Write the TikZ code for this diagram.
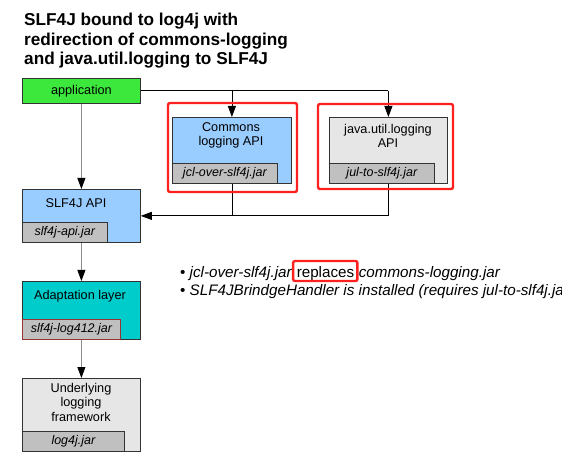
\documentclass[tikz,border=0pt]{standalone}
\usepackage{fontspec}
\setmainfont{Liberation Sans}
\usetikzlibrary{arrows.meta,calc}

\definecolor{appgreen}{HTML}{3CE83C}
\definecolor{apiblue}{HTML}{99CCFF}
\definecolor{adaptteal}{HTML}{00CCCC}
\definecolor{boxgray}{HTML}{E6E6E6}
\definecolor{jargray}{HTML}{C0C0C0}
\definecolor{hired}{HTML}{FF2020}
\definecolor{jarred}{HTML}{993333}

\tikzset{
  box/.style={draw=black!80, line width=0.8pt, anchor=north west, inner sep=0pt},
  jar/.style={draw=black!80, line width=0.8pt, fill=jargray, anchor=south west,
    minimum height=20pt, inner sep=0pt, font=\fontsize{12.5}{14}\selectfont\itshape},
  lbl/.style={align=center, inner sep=0pt, anchor=north, font=\fontsize{12.7}{14.4}\selectfont},
  note/.style={inner sep=0pt, anchor=base west, font=\fontsize{15.2}{18}\selectfont},
  hilite/.style={draw=hired, line width=2.4pt, rounded corners=2pt},
  link/.style={line width=0.8pt},
}

\begin{document}
\begin{tikzpicture}[x=1pt, y=-1pt, >={Triangle[length=11pt, width=8pt, black]}]
  \useasboundingbox (0,0) rectangle (562,454);

  \node[inner sep=0pt, anchor=north west, align=left,
        font=\fontsize{17.2}{19.5}\selectfont\bfseries] (title) at (24,13)
    {SLF4J bound to log4j with\\redirection of commons-logging\\and java.util.logging to SLF4J};

  % left column
  \node[box, fill=appgreen, minimum width=118pt, minimum height=25pt,
        font=\fontsize{12.7}{14}\selectfont] (app) at (22,78) {application};

  \node[box, fill=apiblue, minimum width=118pt, minimum height=53pt] (slf) at (22,189) {};
  \node[jar, minimum width=85pt] (slfjar) at (slf.south west) {slf4j-api.jar};
  \node[lbl] (slftext) at (76,198) {SLF4J API};

  \node[box, fill=adaptteal, minimum width=118pt, minimum height=58pt] (adapt) at (22,281) {};
  \node[jar, draw=jarred, minimum width=98pt] (adaptjar) at (adapt.south west) {slf4j-log412.jar};
  \node[lbl] (adapttext) at (80,290) {Adaptation layer};

  \node[box, fill=boxgray, minimum width=118pt, minimum height=73pt] (under) at (22,378) {};
  \node[jar, minimum width=102pt] (underjar) at (under.south west) {log4j.jar};
  \node[lbl] (undertext) at (81,383) {Underlying\\logging\\framework};

  % bridges
  \node[box, fill=apiblue, minimum width=119pt, minimum height=66pt] (cl) at (172,117) {};
  \node[jar, minimum width=105pt] (cljar) at (cl.south west) {jcl-over-slf4j.jar};
  \node[lbl] (cltext) at (231,122) {Commons\\logging API};

  \node[box, fill=boxgray, minimum width=118pt, minimum height=66pt] (jul) at (329,117) {};
  \node[jar, minimum width=105pt] (juljar) at (jul.south west) {jul-to-slf4j.jar};
  \node[lbl] (jultext) at (388,124) {java.util.logging\\API};

  % connectors
  \coordinate (julturn) at (jul.north |- app.east);
  \draw[link, black!45, ->] (app.south) -- (slf.north);
  \draw[link] (app.east) -- (julturn);
  \draw[link, ->] (julturn) -- (jul.north);
  \draw[link, ->] (cl.north |- app.east) -- (cl.north);
  \draw[link, ->] (jul.south) |- (slf.east);
  \draw[link] (cl.south) -- (cl.south |- slf.east);
  \draw[link, black!45, ->] (slf.south) -- (adapt.north);
  \draw[link, black!45, ->] (adapt.south) -- (under.north);

  % notes
  \node[note] (b1) at (180,277.5) {•\ \textit{jcl-over-slf4j.jar}};
  \node[note] (b2) at ([xshift=4.2pt]b1.base east) {replaces};
  \node[note] (b3) at ([xshift=4.2pt]b2.base east) {\textit{commons-logging.jar}};
  \node[note] (b4) at (180,295.5)
    {•\ \textit{SLF4JBrindgeHandler is installed (requires jul-to-slf4j.jar)}};

  % highlights
  \draw[hilite] (168,103) rectangle (297,192);
  \draw[hilite] (318,104) rectangle (453,189);
  \draw[hilite] ($(b2.base west)+(-3.5,-16.5)$) rectangle ($(b2.base east)+(3,3.5)$);
\end{tikzpicture}
\end{document}
